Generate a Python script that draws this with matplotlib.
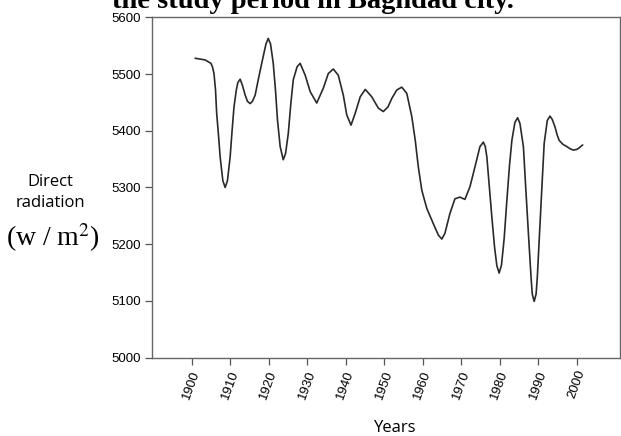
import matplotlib
matplotlib.use('Agg')
import matplotlib.pyplot as plt
import numpy as np

# values
years = [1900.9, 1903.5, 1905.0, 1905.4, 1905.8, 1906.2, 1906.5, 1907.0, 1907.4,
         1908.1, 1908.7, 1909.3, 1910.0, 1910.5, 1911.0, 1911.6, 1912.0, 1912.6,
         1913.2, 1913.9, 1914.5, 1915.2, 1915.8, 1916.5, 1917.3, 1918.2, 1919.3,
         1919.9, 1920.5, 1921.2, 1921.8, 1922.3, 1923.0, 1923.8, 1924.4, 1925.1,
         1925.8, 1926.4, 1927.4, 1928.2, 1929.5, 1930.8, 1932.5, 1934.2, 1935.5,
         1936.8, 1938.1, 1939.4, 1940.3, 1941.4, 1942.5, 1943.8, 1945.1, 1946.8,
         1948.5, 1949.8, 1951.0, 1952.0, 1953.3, 1954.6, 1955.9, 1957.2, 1958.1,
         1958.9, 1959.8, 1961.1, 1962.8, 1964.1, 1965.0, 1965.8, 1967.1, 1968.4,
         1969.7, 1971.0, 1972.3, 1973.6, 1974.9, 1975.8, 1976.3, 1976.7, 1977.3,
         1978.0, 1978.7, 1979.3, 1979.9, 1980.5, 1981.2, 1981.9, 1982.6, 1983.2,
         1984.0, 1984.7, 1985.3, 1985.8, 1986.2, 1986.8, 1987.5, 1988.2, 1988.5,
         1989.0, 1989.5, 1989.8, 1990.3, 1991.0, 1991.6, 1992.4, 1993.1, 1993.7,
         1994.4, 1995.0, 1995.5, 1996.5, 1997.5, 1998.4, 1999.2, 2000.0, 2000.5,
         2001.6]
radiation = [5528, 5525, 5519, 5513, 5501, 5472, 5431, 5390, 5354,
             5312, 5300, 5312, 5354, 5400, 5442, 5472, 5485, 5491,
             5480, 5463, 5452, 5448, 5452, 5463, 5490, 5519, 5553,
             5563, 5553, 5519, 5470, 5419, 5372, 5349, 5360, 5395,
             5450, 5490, 5513, 5519, 5498, 5469, 5449, 5475, 5501,
             5509, 5498, 5463, 5428, 5410, 5431, 5460, 5473, 5460,
             5440, 5434, 5442, 5457, 5472, 5477, 5466, 5425, 5383,
             5336, 5295, 5263, 5236, 5216, 5209, 5219, 5254, 5280,
             5283, 5279, 5301, 5336, 5372, 5380, 5372, 5354, 5305,
             5248, 5195, 5162, 5149, 5163, 5210, 5277, 5340, 5383,
             5415, 5423, 5413, 5390, 5372, 5300, 5219, 5140, 5112,
             5099, 5112, 5140, 5207, 5300, 5378, 5418, 5426, 5420,
             5407, 5392, 5383, 5376, 5372, 5368, 5366, 5367, 5369,
             5375]

y_ticks = [5000, 5100, 5200, 5300, 5400, 5500, 5600]
x_ticks = [1900, 1910, 1920, 1930, 1940, 1950, 1960, 1970, 1980, 1990, 2000]

fig = plt.figure(figsize=(6.21, 4.36), dpi=100)
ax = fig.add_axes([0.2448, 0.180, 0.7536, 0.780])

ax.plot(years, radiation, color='#2a2a2a', linewidth=1.2,
        solid_joinstyle='round', solid_capstyle='round')

ax.set_xlim(1889.7, 2011.3)
ax.set_ylim(5000, 5600)
ax.set_yticks(y_ticks)
ax.set_xticks(x_ticks)
ax.set_xticklabels([str(t) for t in x_ticks], rotation=70, fontsize=9.5,
                   family='Liberation Sans')
ax.set_yticklabels([str(t) for t in y_ticks], fontsize=9.5, family='Liberation Sans')
ax.tick_params(direction='out', length=5, width=0.9, color='#555555', pad=3)

for s in ax.spines.values():
    s.set_color('#666666')
    s.set_linewidth(1.0)

# y label made of two pieces like the original
fig.text(50 / 621, 1 - 182 / 436, 'Direct', ha='center', va='center',
         fontsize=12, family='Open Sans')
fig.text(50 / 621, 1 - 203 / 436, 'radiation', ha='center', va='center',
         fontsize=12, family='Open Sans')
fig.text(53 / 621, 1 - 238 / 436, '(w / m$^2$)', ha='center', va='center',
         fontsize=20, family='Liberation Serif', math_fontfamily='stix')

fig.text(395 / 621, 1 - 428 / 436, 'Years', ha='center', va='center',
         fontsize=12, family='Open Sans')

# title that is cut off at the top of the picture (as in the source image)
fig.text(313 / 621, 1 - 8 / 436, 'the study period in Baghdad city.', ha='center',
         va='baseline', fontsize=20.5, fontweight='bold', family='Liberation Serif')

fig.savefig('out.png', dpi=100)
